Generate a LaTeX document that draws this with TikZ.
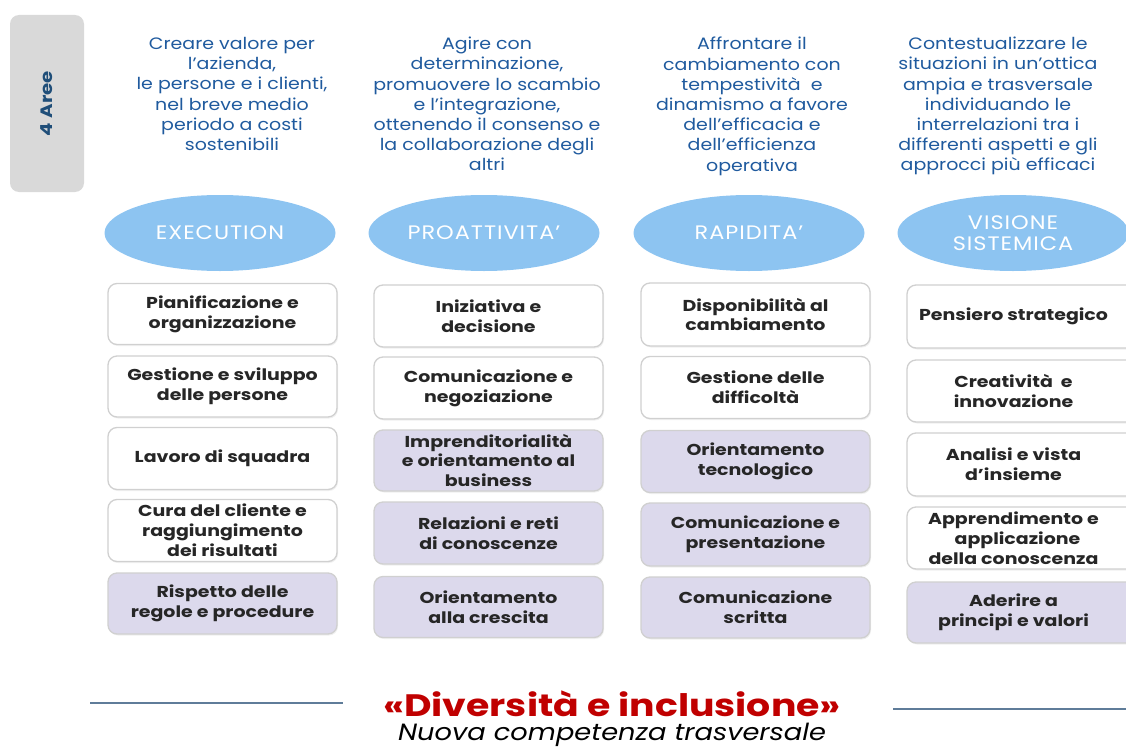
\documentclass[tikz,border=0pt]{standalone}
\usepackage{fontspec}
\setmainfont{Poppins}
\newfontfamily\hdrfont{Poppins}[FakeStretch=1.15]
\newfontfamily\boxfont{Poppins}[FakeStretch=1.2]
\newfontfamily\ellfont{Poppins}[FakeStretch=1.15,LetterSpace=5]
\newfontfamily\titlefont{Poppins}[FakeStretch=1.22]
\newfontfamily\subfont{Poppins}[FakeStretch=1.16]
\usetikzlibrary{shadows,shapes.geometric}
\definecolor{hdrblue}{HTML}{1F5A9E}
\definecolor{areeblue}{HTML}{1F4E79}
\definecolor{ellblue}{HTML}{8DC4F1}
\definecolor{lav}{HTML}{DCD9EC}
\definecolor{bordgray}{HTML}{D0D0D0}
\definecolor{dired}{HTML}{C00000}
\definecolor{linecol}{HTML}{5F7C99}
\tikzset{
  hdr/.style={anchor=north, align=center, text=hdrblue, font=\hdrfont\fontsize{16.5}{20.2}\selectfont, inner sep=0pt},
  ell/.style={ellipse, fill=ellblue, minimum width=231pt, minimum height=76pt, inner sep=0pt, align=center, text=white, font=\ellfont\fontsize{19.5}{21}\selectfont},
  cbox/.style={rounded corners=9pt, draw=bordgray, line width=1.3pt, minimum width=229pt, inner sep=0pt, align=center, text=black!85, font=\boxfont\bfseries\fontsize{15.8}{19.8}\selectfont, drop shadow={opacity=0.12, shadow xshift=1pt, shadow yshift=-1.5pt}},
  wb/.style={cbox, fill=white},
  lb/.style={cbox, fill=lav},
  sepline/.style={draw=linecol, line width=1.3pt},
}
\begin{document}
\begin{tikzpicture}[x=1pt,y=-1pt]
\useasboundingbox (0,0) rectangle (1126,749);
\begin{scope}
\clip (0,0) rectangle (1126,749);
% left tab
\node[rounded corners=9pt, fill=black!15, minimum width=74pt, minimum height=177pt, inner sep=0pt] (tab) at (47,103.5) {};
\node[rotate=90, text=areeblue, font=\boxfont\bfseries\fontsize{16.5}{18}\selectfont] (tabtxt) at (tab.center) {4 Aree};
% headers
\node[hdr] (h1) at (232,37) {Creare valore per\\l’azienda,\\le persone e i clienti,\\nel breve medio\\periodo a costi\\sostenibili};
\node[hdr] (h2) at (487,37) {Agire con\\determinazione,\\promuovere lo scambio\\e l’integrazione,\\ottenendo il consenso e\\la collaborazione degli\\altri};
\node[hdr] (h3) at (752,37) {Affrontare il\\cambiamento con\\tempestività\ \ e\\dinamismo a favore\\dell’efficacia e\\dell’efficienza\\operativa};
\node[hdr] (h4) at (998,37) {Contestualizzare le\\situazioni in un’ottica\\ampia e trasversale\\individuando le\\interrelazioni tra i\\differenti aspetti e gli\\approcci più efficaci};
% ellipses
\node[ell] (e1) at (220,233) {EXECUTION};
\node[ell] (e2) at (484,233) {PROATTIVITA’};
\node[ell] (e3) at (749,233) {RAPIDITA’};
\node[ell] (e4) at (1013,233) {VISIONE\\SISTEMICA};
% column 1
\node[wb, minimum height=61pt] (a1) at (222.5,314) {Pianificazione e\\organizzazione};
\node[wb, minimum height=61pt] (a2) at (222.5,386.5) {Gestione e sviluppo\\delle persone};
\node[wb, minimum height=62pt] (a3) at (222.5,458.5) {Lavoro di squadra};
\node[wb, minimum height=62pt] (a4) at (222.5,530.5) {Cura del cliente e\\raggiungimento\\dei risultati};
\node[lb, minimum height=61pt] (a5) at (222.5,603.5) {Rispetto delle\\regole e procedure};
% column 2
\node[wb, minimum height=62pt] (b1) at (488.5,316) {Iniziativa e\\decisione};
\node[wb, minimum height=62pt] (b2) at (488.5,388) {Comunicazione e\\negoziazione};
\node[lb, minimum height=61pt] (b3) at (488.5,460.5) {Imprenditorialità\\e orientamento al\\business};
\node[lb, minimum height=62pt] (b4) at (488.5,533) {Relazioni e reti\\di conoscenze};
\node[lb, minimum height=61pt] (b5) at (488.5,607) {Orientamento\\alla crescita};
% column 3
\node[wb, minimum height=63pt] (c1) at (755.5,314.5) {Disponibilità al\\cambiamento};
\node[wb, minimum height=62pt] (c2) at (755.5,387.5) {Gestione delle\\difficoltà};
\node[lb, minimum height=62pt] (c3) at (755.5,461.5) {Orientamento\\tecnologico};
\node[lb, minimum height=63pt] (c4) at (755.5,534.5) {Comunicazione e\\presentazione};
\node[lb, minimum height=61pt] (c5) at (755.5,607.5) {Comunicazione\\scritta};
% column 4
\node[wb, minimum height=63pt] (d1) at (1021.5,316.5) {\hspace*{-8pt}Pensiero strategico\hspace*{8pt}};
\node[wb, minimum height=62pt] (d2) at (1021.5,391) {\hspace*{-8pt}Creatività\ \ e\hspace*{8pt}\\\hspace*{-8pt}innovazione\hspace*{8pt}};
\node[wb, minimum height=63pt] (d3) at (1021.5,464.5) {\hspace*{-8pt}Analisi e vista\hspace*{8pt}\\\hspace*{-8pt}d’insieme\hspace*{8pt}};
\node[wb, minimum height=62pt] (d4) at (1021.5,538) {\hspace*{-8pt}Apprendimento e\hspace*{8pt}\\\hspace*{-8pt}applicazione\hspace*{8pt}\\\hspace*{-8pt}della conoscenza\hspace*{8pt}};
\node[lb, minimum height=61pt] (d5) at (1021.5,612.5) {\hspace*{-8pt}Aderire a\hspace*{8pt}\\\hspace*{-8pt}principi e valori\hspace*{8pt}};
% bottom
\node[text=dired, font=\titlefont\bfseries\fontsize{31}{34}\selectfont, inner sep=0pt] (t1) at (612,704) {«Diversità e inclusione»};
\node[text=black, font=\subfont\itshape\fontsize{23.5}{26}\selectfont, inner sep=0pt] (t2) at (612,735) {Nuova competenza trasversale};
\coordinate (l1a) at (90,703);
\coordinate (l1b) at (343,703);
\coordinate (l2a) at (893,709);
\coordinate (l2b) at (1126,709);
\draw[sepline] (l1a) -- (l1b);
\draw[sepline] (l2a) -- (l2b);
\end{scope}
\end{tikzpicture}
\end{document}
